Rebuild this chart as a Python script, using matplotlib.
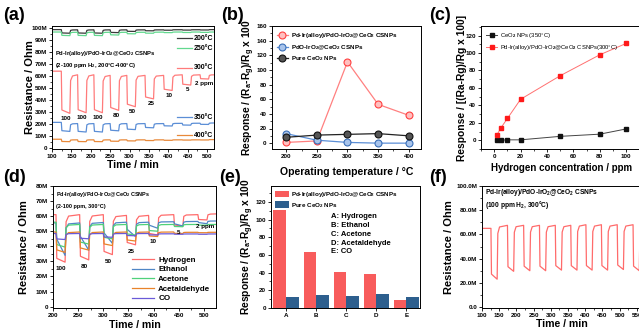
import numpy as np
import matplotlib
matplotlib.use("Agg")
import matplotlib.pyplot as plt
from matplotlib.ticker import MultipleLocator, AutoMinorLocator, FuncFormatter

plt.rcParams['font.family'] = ['Liberation Sans', 'DejaVu Sans']
plt.rcParams['font.weight'] = 'bold'
plt.rcParams['axes.labelweight'] = 'bold'
plt.rcParams['mathtext.fontset'] = 'custom'
plt.rcParams['mathtext.rm'] = 'Liberation Sans:bold'
plt.rcParams['mathtext.it'] = 'Liberation Sans:bold'
plt.rcParams['mathtext.bf'] = 'Liberation Sans:bold'
plt.rcParams['mathtext.default'] = 'rm'

CAT = r"Pd-Ir(alloy)/PdO-IrO$_2$@CeO$_2$ CSNPs"
RESP = r"Response / (R$_a$-R$_g$)/R$_g$ x 100"

# ---- (a) transient response vs temperature, levels in MOhm ----
a_onsets = [124, 166, 208, 250, 293, 340, 388, 436, 482]
a_dur = 22
a_conc = ["100", "100", "100", "80", "50", "25", "10", "5", "2 ppm"]
a_temps = ["200°C", "250°C", "300°C", "350°C", "400°C"]
a_base_200 = [98.5, 98.3, 98.3, 98.3, 98.3, 98.3, 98.3, 98.4, 98.4, 98.5]
a_min_200 = [95.5, 95.5, 95.5, 96.0, 97.0, 97.5, 98.0, 98.1, 98.2]
a_base_250 = [96.5, 96.3, 96.3, 96.3, 96.3, 96.3, 96.4, 96.5, 96.5, 96.5]
a_min_250 = [93.5, 93.5, 93.5, 94.0, 95.0, 95.5, 96.0, 96.1, 96.2]
a_base_300 = [64.0, 61.0, 61.0, 60.5, 60.5, 60.5, 60.5, 61.0, 61.0, 61.0]
a_min_300 = [29.0, 29.5, 29.5, 31.5, 34.5, 41.0, 48.0, 52.5, 57.5]
a_base_350 = [21.5, 20.5, 20.5, 20.5, 20.5, 20.5, 20.5, 20.7, 20.8, 21.0]
a_min_350 = [14.0, 13.5, 13.5, 14.5, 15.5, 17.0, 18.5, 19.2, 19.8]
a_base_400 = [7.5, 7.0, 7.0, 7.0, 7.0, 7.0, 7.0, 7.0, 7.0, 7.2]
a_min_400 = [5.5, 5.5, 5.5, 5.8, 6.1, 6.4, 6.6, 6.8, 6.9]

# ---- (b) response vs operating temperature ----
b_temp = [200, 250, 300, 350, 400]
b_pdir = [1, 3, 111, 53, 38]
b_pdo = [13, 4, 1, 0, 0]
b_ceo2 = [8, 11, 12, 13, 10]

# ---- (c) response vs H2 concentration ----
c_conc = [2, 5, 10, 20, 50, 80, 100]
c_ceo2 = [0, 0, 0.5, 0.5, 4.5, 7, 13]
c_pdir = [6, 14, 25, 47, 74, 98, 111]

# ---- (d) selectivity transients at 300 C, levels in MOhm ----
d_onsets = [206, 253, 300, 346, 390, 440, 488]
d_dur = 18
d_conc = ["100", "80", "50", "25", "10", "5", "2 ppm"]
d_gases = ["Hydrogen", "Ethanol", "Acetone", "Acetaldehyde", "CO"]
d_base_h2 = [61.0, 61.0, 61.0, 60.5, 60.5, 61.0, 61.0, 61.5]
d_min_h2 = [29.5, 31.0, 34.5, 41.0, 47.5, 53.5, 57.5]
d_base_eth = [55.5, 55.5, 55.8, 56.0, 56.0, 56.3, 56.5, 56.8]
d_min_eth = [34.0, 37.5, 42.0, 46.5, 52.0, 53.5, 55.0]
d_base_ace = [56.0, 54.5, 54.5, 54.5, 54.5, 54.5, 54.5, 54.5]
d_min_ace = [39.5, 41.5, 45.0, 47.5, 50.0, 53.0, 54.0]
d_base_ald = [49.5, 49.5, 49.5, 49.5, 49.5, 49.5, 49.3, 49.3]
d_min_ald = [36.0, 37.5, 40.5, 43.5, 46.5, 48.5, 49.0]
d_base_co = [48.5, 48.5, 48.5, 48.5, 48.5, 48.3, 48.2, 48.2]
d_min_co = [44.5, 45.0, 46.0, 47.0, 47.5, 48.0, 48.0]

# ---- (e) selectivity bars ----
e_gas = ["A", "B", "C", "D", "E"]
e_pdir = [111, 63, 41, 39, 9.5]
e_ceo2 = [13, 14.5, 13.5, 15.5, 12.5]

# ---- (f) repeated 100 ppm cycles, levels in MOhm ----
f_onsets = [126, 174, 221, 267, 313, 358, 402, 447, 493, 539]
f_dur = 18
f_base = [65.0, 67.5, 67.5, 67.5, 67.5, 67.5, 68.0, 68.0, 68.0, 68.0, 67.5]
f_min = [23.0, 29.5, 30.0, 30.0, 30.5, 30.5, 30.5, 30.5, 31.0, 30.0]


def trace(onsets, dur, bases, mins, start, end, sag=0.08):
    """Corner points of a stepwise transient built from read levels."""
    t, r = [start], [bases[0]]
    for on, b0, b1, m in zip(onsets, bases[:-1], bases[1:], mins):
        d = b0 - m
        t += [on, on + 1.5, on + dur, on + dur + 2, on + dur + 7]
        r += [b0, m + sag * d, m, m + 0.85 * (b1 - m), b1 - 0.03 * (b1 - m)]
    t.append(end)
    r.append(bases[-1])
    return np.array(t), np.array(r) * 1e6


W, H = 639, 329


def rect(l, t, r, b):
    return [l / W, 1 - b / H, (r - l) / W, (b - t) / H]


def style(ax, xl, yl, fs=4.5):
    ax.tick_params(labelsize=fs, length=2, width=0.6, pad=1.5)
    ax.tick_params(which='minor', length=1.2, width=0.5)
    for s in ax.spines.values():
        s.set_linewidth(0.7)
    ax.xaxis.set_minor_locator(AutoMinorLocator(2))
    ax.yaxis.set_minor_locator(AutoMinorLocator(2))
    ax.xaxis.set_label_coords(0.5, xl)
    ax.yaxis.set_label_coords(yl, 0.5)


fig = plt.figure(figsize=(W / 100, H / 100), dpi=100)
mfmt = FuncFormatter(lambda v, p: "0" if v == 0 else "%dM" % round(v / 1e6))
mfmt1 = FuncFormatter(lambda v, p: "%.1fM" % (v / 1e6) if v else "0.0")
LFS = 7.6

# (a)
ax = fig.add_axes(rect(52, 26, 214, 149))
cols_a = ['#3a3a3a', '#62d88f', '#ff7b7b', '#5b8ed6', '#e8893a']
sets_a = [(a_base_200, a_min_200), (a_base_250, a_min_250),
          (a_base_300, a_min_300), (a_base_350, a_min_350),
          (a_base_400, a_min_400)]
for (bs, ms), c in zip(sets_a, cols_a):
    t, r = trace(a_onsets, a_dur, bs, ms, 100, 520)
    ax.plot(t, r, color=c, lw=0.9)
for on, m, lab in zip(a_onsets, a_min_300, a_conc):
    ax.text(on + a_dur / 2 + (4 if len(lab) < 3 else 0), (m - 4) * 1e6, lab,
            fontsize=4.5, ha='center', va='center')
leg_y = [0.90, 0.82, 0.66, 0.26, 0.11]
for yy, c, lab in zip(leg_y, cols_a, a_temps):
    ax.plot([0.77, 0.865], [yy, yy], color=c, lw=0.9, transform=ax.transAxes)
    ax.text(0.875, yy, lab, fontsize=5, va='center', transform=ax.transAxes)
ax.text(0.02, 0.78, CAT, fontsize=4.2, va='center', transform=ax.transAxes)
ax.text(0.02, 0.675, "(2-100 ppm H$_2$, 200°C-400°C)", fontsize=4.2,
        va='center', transform=ax.transAxes)
ax.set_xlim(100, 518)
ax.set_ylim(-0.6e6, 101.5e6)
ax.xaxis.set_major_locator(MultipleLocator(50))
ax.yaxis.set_major_locator(MultipleLocator(10e6))
ax.yaxis.set_major_formatter(mfmt)
ax.set_xlabel("Time / min", fontsize=LFS)
ax.set_ylabel("Resistance / Ohm", fontsize=8)
style(ax, -0.089, -0.105)

# (b)
ax = fig.add_axes(rect(271.5, 26, 421, 149))
ax.plot(b_temp, b_pdir, '-o', color='#ff8080', mfc='#ffc0c0', mec='#ff4040',
        ms=5, lw=0.9, mew=0.8, label=CAT)
ax.plot(b_temp, b_pdo, '-o', color='#5b8ed6', mfc='#a8c4ec', mec='#3a6fb8',
        ms=5, lw=0.9, mew=0.8, label=r"PdO-IrO$_2$@CeO$_2$ CSNPs")
ax.plot(b_temp, b_ceo2, '-o', color='#222222', mfc='#555555', mec='#111111',
        ms=5, lw=0.9, mew=0.8, label=r"Pure CeO$_2$ NPs")
ax.legend(loc='upper left', fontsize=4.5, frameon=False, handlelength=1.9,
          labelspacing=0.45, borderaxespad=0.4, handletextpad=0.4)
ax.set_xlim(176, 420)
ax.set_ylim(-8, 160)
ax.xaxis.set_major_locator(MultipleLocator(50))
ax.yaxis.set_major_locator(MultipleLocator(20))
ax.set_xlabel("Operating temperature / °C", fontsize=LFS)
ax.set_ylabel(RESP, fontsize=7.4)
style(ax, -0.146, -0.10)

# (c)
ax = fig.add_axes(rect(481, 26, 642, 149))
ax.plot(c_conc, c_ceo2, '-s', color='#444444', mfc='#111111', mec='#111111',
        ms=2.5, lw=0.7, label="CeO$_2$ NPs (350°C)")
ax.plot(c_conc, c_pdir, '-s', color='#ff7070', mfc='#ff1a1a', mec='#ff1a1a',
        ms=2.5, lw=0.7, label=CAT + "(300°C)")
ax.legend(loc='upper left', prop={'size': 4.2, 'weight': 'normal'},
          frameon=False, handlelength=1.9, labelspacing=0.5,
          borderaxespad=0.5, handletextpad=0.4)
ax.set_xlim(-10, 112)
ax.set_ylim(-10, 131)
ax.xaxis.set_major_locator(MultipleLocator(20))
ax.yaxis.set_major_locator(MultipleLocator(20))
ax.set_xlabel("Hydrogen concentration / ppm", fontsize=7.0)
ax.set_ylabel("Response / [(Ra-Rg)/Rg x 100]", fontsize=7.4)
style(ax, -0.114, -0.087)

# (d)
ax = fig.add_axes(rect(53, 186, 216, 308))
cols_d = ['#ff6b6b', '#4f86c6', '#4fd17a', '#e8832a', '#6a5ad8']
sets_d = [(d_base_h2, d_min_h2, 0.08), (d_base_eth, d_min_eth, 0.5),
          (d_base_ace, d_min_ace, 0.1), (d_base_ald, d_min_ald, 0.12),
          (d_base_co, d_min_co, 0.1)]
for (bs, ms, sg), c, lab in zip(sets_d, cols_d, d_gases):
    t, r = trace(d_onsets, d_dur, bs, ms, 200, 524, sag=sg)
    ax.plot(t, r, color=c, lw=0.9, label=lab)
for on, m, lab in zip(d_onsets, d_min_h2, d_conc):
    ax.text(on + d_dur / 2 + (6 if lab == "2 ppm" else 0), (m - 4.5) * 1e6,
            lab, fontsize=4.5, ha='center', va='center')
ax.legend(loc='lower right', fontsize=5.8, frameon=False, handlelength=2.8,
          labelspacing=0.25, borderaxespad=0.3, handletextpad=0.5)
ax.text(0.02, 0.934, CAT, fontsize=4.0, va='center', transform=ax.transAxes)
ax.text(0.02, 0.836, "(2-100 ppm, 300°C)", fontsize=4.0, va='center',
        transform=ax.transAxes)
ax.set_xlim(200, 524)
ax.set_ylim(-0.9e6, 80e6)
ax.xaxis.set_major_locator(MultipleLocator(50))
ax.yaxis.set_major_locator(MultipleLocator(10e6))
ax.yaxis.set_major_formatter(mfmt)
ax.set_xlabel("Time / min", fontsize=LFS)
ax.set_ylabel("Resistance / Ohm", fontsize=8)
style(ax, -0.098, -0.147)

# (e)
ax = fig.add_axes(rect(271, 186, 420, 308))
xe = np.arange(len(e_gas))
ax.bar(xe - 0.21, e_pdir, width=0.42, color='#f85c5c', label=CAT)
ax.bar(xe + 0.21, e_ceo2, width=0.42, color='#2d5f8e',
       label=r"Pure CeO$_2$ NPs")
ax.legend(loc='upper left', fontsize=4.5, frameon=False, handlelength=2.2,
          handleheight=1.2, labelspacing=0.2, borderaxespad=0.3,
          handletextpad=0.3)
ax.text(0.40, 0.775, "A: Hydrogen\nB: Ethanol\nC: Acetone\nD: Acetaldehyde\nE: CO",
        fontsize=5.5, va='top', linespacing=1.35, transform=ax.transAxes)
ax.set_xticks(xe)
ax.set_xticklabels(e_gas)
ax.set_xlim(-0.5, 4.45)
ax.set_ylim(0, 138)
ax.yaxis.set_major_locator(MultipleLocator(20))
ax.set_ylabel(RESP, fontsize=7.4)
style(ax, -0.1, -0.10)
ax.xaxis.set_minor_locator(plt.NullLocator())

# (f)
ax = fig.add_axes(rect(482, 186, 642, 308))
t, r = trace(f_onsets, f_dur, f_base, f_min, 100, 565, sag=0.1)
ax.plot(t, r, color='#ff6b6b', lw=0.9)
ax.text(0.02, 0.943, CAT, fontsize=4.8, va='center', transform=ax.transAxes)
ax.text(0.02, 0.844, "(100 ppm H$_2$, 300°C)", fontsize=4.8, va='center',
        transform=ax.transAxes)
ax.set_xlim(100, 565)
ax.set_ylim(-0.8e6, 100e6)
ax.xaxis.set_major_locator(MultipleLocator(50))
ax.yaxis.set_major_locator(MultipleLocator(20e6))
ax.yaxis.set_major_formatter(mfmt1)
ax.set_xlabel("Time / min", fontsize=LFS)
ax.set_ylabel("Resistance / Ohm", fontsize=8)
style(ax, -0.09, -0.175)

for lab, x, y in [("(a)", 3, 16), ("(b)", 221, 16), ("(c)", 429, 16),
                  ("(d)", 3, 178), ("(e)", 219, 178), ("(f)", 429, 178)]:
    fig.text(x / W, 1 - y / H, lab, fontsize=13, fontweight='bold',
             va='center', ha='left')

fig.savefig("out.png", dpi=100)
